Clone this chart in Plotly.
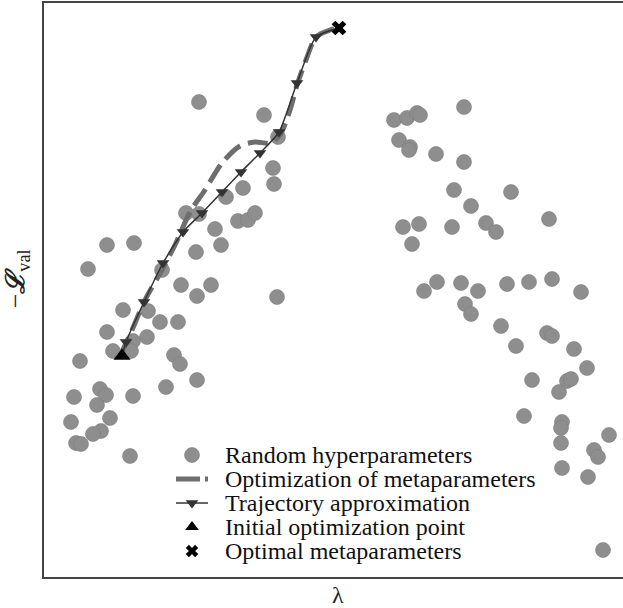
import plotly.graph_objects as go

# Values (arbitrary units: lambda and -L_val, read in picture units)
rand_lambda = [199, 264, 278, 273, 274, 243, 226, 186, 199, 215, 238, 248, 255, 221, 196, 107, 134, 88,
               162, 181, 211, 197, 277, 123, 148, 160, 178, 107, 147, 133, 113, 131, 80, 174, 180, 197,
               166, 100, 106, 74, 133, 97, 110, 71, 101, 93, 76, 81, 130,
               464, 394, 407, 417, 420, 399, 410, 409, 436, 464, 454, 511, 471, 549, 403, 419, 452, 486,
               496, 412, 552, 529, 507, 478, 461, 437, 424, 581, 465, 471, 501, 547, 552, 516, 574, 587,
               532, 567, 571, 559, 524, 562, 561, 561, 609, 594, 598, 562, 588, 603]
rand_loss = [102, 115, 137, 168, 184, 188, 197, 213, 214, 229, 221, 220, 213, 245, 252, 245, 243, 269,
             270, 285, 285, 296, 297, 310, 311, 322, 322, 332, 337, 341, 351, 351, 361, 355, 364, 380,
             387, 389, 395, 397, 396, 405, 418, 422, 431, 434, 443, 444, 456,
             107, 120, 118, 113, 115, 140, 147, 150, 154, 162, 190, 192, 206, 219, 227, 224, 227, 223,
             232, 244, 279, 282, 284, 291, 283, 282, 291, 292, 304, 314, 326, 333, 336, 346, 349, 368,
             380, 381, 379, 392, 416, 422, 428, 443, 435, 450, 457, 468, 477, 550]

opt_lambda = [120, 132, 145, 163, 175, 190, 205, 222, 240, 255, 270, 280, 290, 297, 306, 316, 330, 339]
opt_loss = [356, 330, 300, 268, 245, 212, 190, 163, 146, 142, 143, 135, 110, 85, 60, 37, 30, 28]

traj_lambda = [122, 126, 144, 163, 183, 202, 222, 241, 260, 279, 297, 316, 339]
traj_loss = [356, 342, 302, 263, 232, 213, 192, 172, 153, 132, 83, 37, 28]

init_lambda = [122]
init_loss = [356]
best_lambda = [339]
best_loss = [28]

legend_labels = ["Random hyperparameters", "Optimization of metaparameters",
                 "Trajectory approximation", "Initial optimization point",
                 "Optimal metaparameters"]

GRAY = "#8e8e8e"
DASH_GRAY = "#6e6e6e"
DARK = "#333333"
SERIF = "'Liberation Serif', 'Times New Roman', serif"

fig = go.Figure()
fig.add_trace(go.Scatter(x=rand_lambda, y=rand_loss, mode="markers",
                         marker=dict(size=15, color=GRAY, line=dict(color="#7d7d7d", width=0.6)),
                         showlegend=False))
fig.add_trace(go.Scatter(x=opt_lambda, y=opt_loss, mode="lines",
                         line=dict(color=DASH_GRAY, width=5, dash="20px,8px", shape="spline", smoothing=0.8),
                         showlegend=False))
fig.add_trace(go.Scatter(x=traj_lambda[1:-1], y=traj_loss[1:-1], mode="markers",
                         marker=dict(symbol="triangle-down", size=11, color=DARK),
                         showlegend=False))
fig.add_trace(go.Scatter(x=traj_lambda, y=traj_loss, mode="lines",
                         line=dict(color=DARK, width=1.5, shape="spline", smoothing=0.6),
                         showlegend=False))
fig.add_trace(go.Scatter(x=init_lambda, y=init_loss, mode="markers",
                         marker=dict(symbol="triangle-up", size=15, color="black"), showlegend=False))
fig.add_trace(go.Scatter(x=best_lambda, y=best_loss, mode="markers",
                         marker=dict(symbol="x", size=13, color="black"), showlegend=False))

# Hand-drawn legend: symbols and labels (tight row spacing as in the reference)
ROW_Y = [455, 479, 503, 527, 551]
SYM_X = 192
fig.add_trace(go.Scatter(x=[SYM_X], y=[ROW_Y[0]], mode="markers",
                         marker=dict(size=15, color=GRAY, line=dict(color="#7d7d7d", width=0.6)),
                         showlegend=False, hoverinfo="skip"))
fig.add_trace(go.Scatter(x=[176, 208], y=[ROW_Y[1]] * 2, mode="lines",
                         line=dict(color=DASH_GRAY, width=5, dash="24px,5px"),
                         showlegend=False, hoverinfo="skip"))
fig.add_trace(go.Scatter(x=[176, 208], y=[ROW_Y[2]] * 2, mode="lines",
                         line=dict(color=DARK, width=1.5), showlegend=False, hoverinfo="skip"))
fig.add_trace(go.Scatter(x=[SYM_X], y=[ROW_Y[2]], mode="markers",
                         marker=dict(symbol="triangle-down", size=11, color=DARK),
                         showlegend=False, hoverinfo="skip"))
fig.add_trace(go.Scatter(x=[SYM_X], y=[ROW_Y[3]], mode="markers",
                         marker=dict(symbol="triangle-up", size=12, color="black"),
                         showlegend=False, hoverinfo="skip"))
fig.add_trace(go.Scatter(x=[SYM_X], y=[ROW_Y[4]], mode="markers",
                         marker=dict(symbol="x", size=11, color="black"),
                         showlegend=False, hoverinfo="skip"))

annotations = []
for lab, yy in zip(legend_labels, ROW_Y):
    annotations.append(dict(x=223, y=yy, xref="x", yref="y", text=lab, showarrow=False,
                            xanchor="left", yanchor="middle",
                            font=dict(family=SERIF, size=24, color="#111111")))
annotations.append(dict(x=338, y=-0.032, xref="x", yref="paper", text="λ", showarrow=False,
                        yanchor="middle", font=dict(family=SERIF, size=24, color="#222222")))
annotations.append(dict(x=-0.078, y=0.52, xref="paper", yref="paper",
                        text="−<b><i>ℒ</i></b><sub>val</sub>", textangle=-90, showarrow=False,
                        font=dict(family=SERIF, size=26, color="#222222")))

fig.update_layout(
    width=623, height=608,
    margin=dict(l=44, r=0, t=3, b=31),
    paper_bgcolor="white", plot_bgcolor="white",
    showlegend=False,
    font=dict(family=SERIF),
    annotations=annotations,
    xaxis=dict(range=[44, 623], showgrid=False, zeroline=False, showticklabels=False, ticks="",
               showline=True, linecolor="#444444", linewidth=2, mirror=True),
    yaxis=dict(range=[577, 3], showgrid=False, zeroline=False, showticklabels=False, ticks="",
               showline=True, linecolor="#444444", linewidth=2, mirror=False),
)

fig.write_html("out.html")
